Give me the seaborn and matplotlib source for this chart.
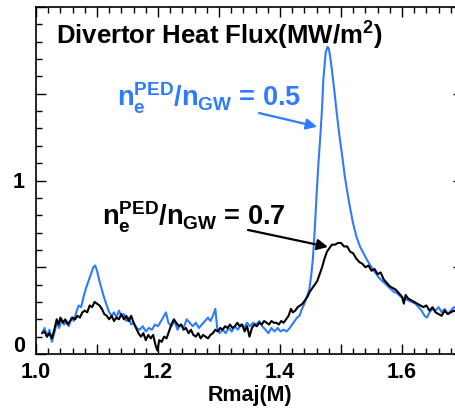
import matplotlib
matplotlib.use("Agg")
import matplotlib.pyplot as plt
import matplotlib.transforms as mtransforms
import seaborn as sns
import pandas as pd
from matplotlib.ticker import MultipleLocator, FuncFormatter

blue_pts = [(1.010,0.12),(1.014,0.15),(1.018,0.10),(1.022,0.14),(1.026,0.07),(1.030,0.12),(1.034,0.18),(1.038,0.15),(1.042,0.20),(1.046,0.17),(1.050,0.19),(1.054,0.16),(1.058,0.21),(1.062,0.19),(1.066,0.24),(1.070,0.28),(1.074,0.27),(1.078,0.33),(1.082,0.38),(1.086,0.42),(1.090,0.46),(1.094,0.50),(1.097,0.51),(1.100,0.48),(1.104,0.42),(1.108,0.37),(1.112,0.32),(1.116,0.28),(1.120,0.24),(1.124,0.22),(1.128,0.24),(1.132,0.21),(1.136,0.25),(1.140,0.22),(1.144,0.23),(1.148,0.19),(1.152,0.21),(1.156,0.17),(1.160,0.18),(1.165,0.15),(1.170,0.14),(1.175,0.16),(1.180,0.13),(1.185,0.15),(1.190,0.14),(1.195,0.17),(1.200,0.16),(1.205,0.19),(1.210,0.22),(1.213,0.24),(1.217,0.18),(1.222,0.16),(1.227,0.19),(1.232,0.14),(1.237,0.17),(1.242,0.15),(1.247,0.20),(1.252,0.18),(1.257,0.16),(1.262,0.18),(1.267,0.15),(1.272,0.17),(1.277,0.19),(1.282,0.21),(1.286,0.19),(1.290,0.22),(1.294,0.26),(1.297,0.15),(1.301,0.12),(1.306,0.14),(1.311,0.12),(1.316,0.15),(1.321,0.13),(1.326,0.16),(1.331,0.14),(1.336,0.17),(1.341,0.15),(1.346,0.18),(1.351,0.16),(1.356,0.18),(1.361,0.17),(1.366,0.19),(1.371,0.16),(1.376,0.14),(1.381,0.12),(1.386,0.15),(1.391,0.13),(1.396,0.15),(1.401,0.13),(1.406,0.14),(1.411,0.13),(1.416,0.15),(1.420,0.17),(1.424,0.19),(1.428,0.21),(1.432,0.22),(1.436,0.26),(1.440,0.29),(1.444,0.33),(1.448,0.37),(1.451,0.45),(1.454,0.55),(1.457,0.72),(1.460,0.92),(1.463,1.10),(1.466,1.25),(1.469,1.42),(1.471,1.58),(1.473,1.66),(1.475,1.74),(1.478,1.77),(1.480,1.76),(1.482,1.72),(1.485,1.64),(1.489,1.52),(1.493,1.39),(1.497,1.27),(1.502,1.14),(1.506,1.03),(1.510,0.94),(1.515,0.84),(1.520,0.75),(1.525,0.68),(1.531,0.62),(1.537,0.58),(1.543,0.54),(1.550,0.50),(1.556,0.47),(1.562,0.44),(1.568,0.42),(1.574,0.40),(1.580,0.38),(1.586,0.36),(1.592,0.35),(1.598,0.33),(1.604,0.32),(1.610,0.31),(1.616,0.30),(1.622,0.29),(1.627,0.27),(1.632,0.25),(1.637,0.22),(1.641,0.21),(1.645,0.24),(1.650,0.26),(1.655,0.25),(1.660,0.27),(1.665,0.24),(1.670,0.26),(1.675,0.23),(1.680,0.25),(1.685,0.27),(1.690,0.26)]

black_pts = [(1.010,0.12),(1.014,0.13),(1.018,0.10),(1.022,0.12),(1.026,0.09),(1.030,0.14),(1.034,0.20),(1.037,0.17),(1.040,0.21),(1.044,0.18),(1.048,0.20),(1.052,0.17),(1.056,0.19),(1.060,0.21),(1.064,0.20),(1.068,0.22),(1.072,0.21),(1.076,0.24),(1.080,0.25),(1.084,0.24),(1.088,0.28),(1.092,0.27),(1.096,0.30),(1.100,0.29),(1.104,0.28),(1.108,0.26),(1.112,0.23),(1.116,0.22),(1.120,0.20),(1.124,0.22),(1.128,0.19),(1.132,0.21),(1.136,0.20),(1.140,0.23),(1.144,0.20),(1.148,0.22),(1.152,0.19),(1.156,0.22),(1.160,0.18),(1.164,0.15),(1.168,0.12),(1.172,0.10),(1.176,0.12),(1.180,0.08),(1.184,0.11),(1.188,0.09),(1.192,0.11),(1.196,0.05),(1.199,0.02),(1.202,0.08),(1.206,0.07),(1.210,0.10),(1.214,0.09),(1.218,0.13),(1.222,0.17),(1.226,0.20),(1.230,0.18),(1.234,0.16),(1.238,0.17),(1.242,0.14),(1.246,0.15),(1.250,0.12),(1.254,0.14),(1.258,0.11),(1.262,0.10),(1.266,0.12),(1.270,0.09),(1.274,0.11),(1.278,0.10),(1.282,0.09),(1.286,0.11),(1.290,0.12),(1.294,0.14),(1.298,0.13),(1.302,0.15),(1.306,0.14),(1.310,0.16),(1.314,0.15),(1.318,0.17),(1.322,0.15),(1.326,0.16),(1.330,0.18),(1.334,0.16),(1.338,0.17),(1.342,0.13),(1.346,0.16),(1.350,0.10),(1.354,0.15),(1.358,0.17),(1.362,0.16),(1.366,0.18),(1.370,0.17),(1.374,0.19),(1.378,0.18),(1.382,0.17),(1.386,0.19),(1.390,0.18),(1.394,0.18),(1.398,0.17),(1.402,0.19),(1.406,0.18),(1.410,0.20),(1.414,0.22),(1.418,0.26),(1.421,0.24),(1.425,0.25),(1.429,0.27),(1.433,0.28),(1.437,0.29),(1.441,0.31),(1.445,0.33),(1.449,0.36),(1.453,0.38),(1.457,0.40),(1.461,0.42),(1.465,0.46),(1.469,0.50),(1.473,0.55),(1.477,0.59),(1.481,0.61),(1.485,0.63),(1.490,0.63),(1.495,0.64),(1.500,0.64),(1.505,0.62),(1.510,0.62),(1.515,0.59),(1.520,0.58),(1.525,0.55),(1.530,0.53),(1.535,0.52),(1.540,0.50),(1.545,0.51),(1.550,0.48),(1.555,0.49),(1.560,0.46),(1.565,0.47),(1.570,0.43),(1.575,0.41),(1.580,0.39),(1.585,0.38),(1.590,0.37),(1.595,0.35),(1.600,0.33),(1.603,0.29),(1.606,0.34),(1.610,0.32),(1.615,0.31),(1.620,0.30),(1.625,0.29),(1.630,0.28),(1.635,0.27),(1.640,0.28),(1.645,0.25),(1.650,0.27),(1.655,0.24),(1.660,0.23),(1.665,0.22),(1.670,0.25),(1.675,0.23),(1.680,0.24),(1.685,0.25),(1.690,0.24)]

title_text = "Divertor Heat Flux(MW/m$^{\\mathbf{2}}$)"
x_label = "Rmaj(M)"
label_blue = "0.5"
label_black = "0.7"
y_labelled = [0, 1]
x_labelled = [1.0, 1.2, 1.4, 1.6]

BLUE = "#2F7BFF"

sns.set_theme(style="ticks")
plt.rcParams["font.family"] = ["Liberation Sans", "DejaVu Sans"]
plt.rcParams["font.weight"] = "bold"
plt.rcParams["text.color"] = "black"
plt.rcParams["axes.labelcolor"] = "black"
plt.rcParams["xtick.color"] = "black"
plt.rcParams["ytick.color"] = "black"
plt.rcParams["axes.edgecolor"] = "black"
plt.rcParams["mathtext.fontset"] = "custom"
plt.rcParams["mathtext.rm"] = "Liberation Sans:bold"
plt.rcParams["mathtext.bf"] = "Liberation Sans:bold"
plt.rcParams["mathtext.it"] = "Liberation Sans:bold"

fig = plt.figure(figsize=(4.55, 4.08), dpi=100)
ax = fig.add_axes([36/455, 54/408, 427/455, 347/408])

dfb = pd.DataFrame(blue_pts, columns=["x", "y"])
dfk = pd.DataFrame(black_pts, columns=["x", "y"])
sns.lineplot(data=dfb, x="x", y="y", ax=ax, color=BLUE, lw=1.5, sort=False)
sns.lineplot(data=dfk, x="x", y="y", ax=ax, color="black", lw=1.5, sort=False)

ax.set_xlim(1.0, 1.7)
ax.set_ylim(0, 2.0)
ax.xaxis.set_major_locator(MultipleLocator(0.1))
ax.xaxis.set_minor_locator(MultipleLocator(0.02))
ax.yaxis.set_major_locator(MultipleLocator(0.5))
ax.yaxis.set_minor_locator(MultipleLocator(0.1))
ax.xaxis.set_major_formatter(FuncFormatter(
    lambda v, p: f"{v:.1f}" if any(abs(v - t) < 1e-6 for t in x_labelled) else ""))
ax.yaxis.set_major_formatter(FuncFormatter(
    lambda v, p: f"{v:.0f}" if any(abs(v - t) < 1e-6 for t in y_labelled) else ""))
ax.tick_params(which="both", direction="in", top=True, right=True, width=1.0,
               colors="black", labelcolor="black")
ax.tick_params(which="major", length=7, labelsize=15.5)
ax.tick_params(axis="x", which="major", pad=6)
ax.tick_params(axis="y", which="major", pad=8)
ax.tick_params(which="minor", length=4)
for lab in ax.get_xticklabels() + ax.get_yticklabels():
    lab.set_fontweight("bold")
for s in ax.spines.values():
    s.set_linewidth(1.2)
    s.set_color("black")

ax.set_xlabel(x_label, fontsize=15.5, fontweight="bold", labelpad=1, color="black")
ax.set_ylabel("")

# IDL-style: the "0" label sits above its tick
for t in ax.yaxis.get_major_ticks():
    if abs(t.get_loc()) < 1e-9:
        t.label1.set_transform(t.label1.get_transform() +
                               mtransforms.ScaledTranslation(0, 7/72, fig.dpi_scale_trans))

fig.text(56/455, 1 - 36/408, title_text, fontsize=18.5, fontweight="bold", color="black",
         ha="left", va="center")

fig.text(117/455, 1 - 107/408, r"$\mathbf{n_e^{PED}/n_{GW}}$ = " + label_blue, fontsize=19.5,
         color=BLUE, fontweight="bold", ha="left", va="baseline")
fig.text(102/455, 1 - 225/408, r"$\mathbf{n_e^{PED}/n_{GW}}$ = " + label_black, fontsize=19.5,
         color="black", fontweight="bold", ha="left", va="baseline")

ax.annotate("", xy=(1.4607, 1.31), xytext=(1.3656, 1.389),
            arrowprops=dict(arrowstyle="-|>", color=BLUE, lw=1.6, mutation_scale=16,
                            shrinkA=0, shrinkB=0))
ax.annotate("", xy=(1.4787, 0.617), xytext=(1.3475, 0.715),
            arrowprops=dict(arrowstyle="-|>", color="black", lw=1.6, mutation_scale=16,
                            shrinkA=0, shrinkB=0))

fig.savefig("out.png", dpi=100)
